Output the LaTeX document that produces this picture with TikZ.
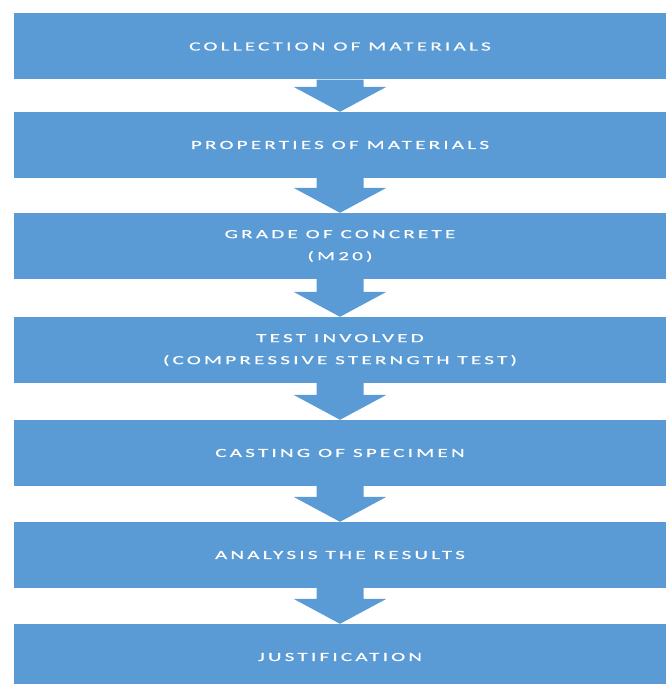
\documentclass[tikz,border=0pt]{standalone}
\usepackage{fontspec}
\usetikzlibrary{calc}
\newfontfamily\stepfont[FakeStretch=1.7,LetterSpace=26,FakeBold=0.6]{Carlito}
\definecolor{stepblue}{HTML}{5B9BD5}

\tikzset{
  stepbox/.style={fill=stepblue, text=white, minimum width=652pt,
    minimum height=66pt, inner sep=0pt, align=center,
    font=\stepfont\fontsize{12.4}{22}\selectfont},
}

\begin{document}
\begin{tikzpicture}[x=1pt, y=-1pt]
  \useasboundingbox (0,0) rectangle (668,684);
  % the seven stages, top to bottom
  \foreach \id/\ypos/\lab in {collect/46.5/COLLECTION OF MATERIALS,
      props/145/PROPERTIES OF MATERIALS,
      grade/246/{GRADE OF CONCRETE\\(M20)},
      tests/350/{TEST INVOLVED\\(COMPRESSIVE STERNGTH TEST)},
      cast/453/CASTING OF SPECIMEN,
      analyse/555/ANALYSIS THE RESULTS,
      justify/657/JUSTIFICATION}{%
    \node[stepbox] (\id) at (340,\ypos) {\lab};}
  % block arrows between stages
  \foreach \a/\b in {collect/props, props/grade, grade/tests, tests/cast,
                     cast/analyse, analyse/justify}{%
    \fill[stepblue] let \p1=(\a.south), \p2=(\b.north) in
      (\x1-23.5pt,\y1) -- (\x1+23.5pt,\y1) -- (\x1+23.5pt,\y2+25pt)
      -- (\x1+46.5pt,\y2+25pt) -- (\x1,\y2) -- (\x1-46.5pt,\y2+25pt)
      -- (\x1-23.5pt,\y2+25pt) -- cycle;}
\end{tikzpicture}
\end{document}
